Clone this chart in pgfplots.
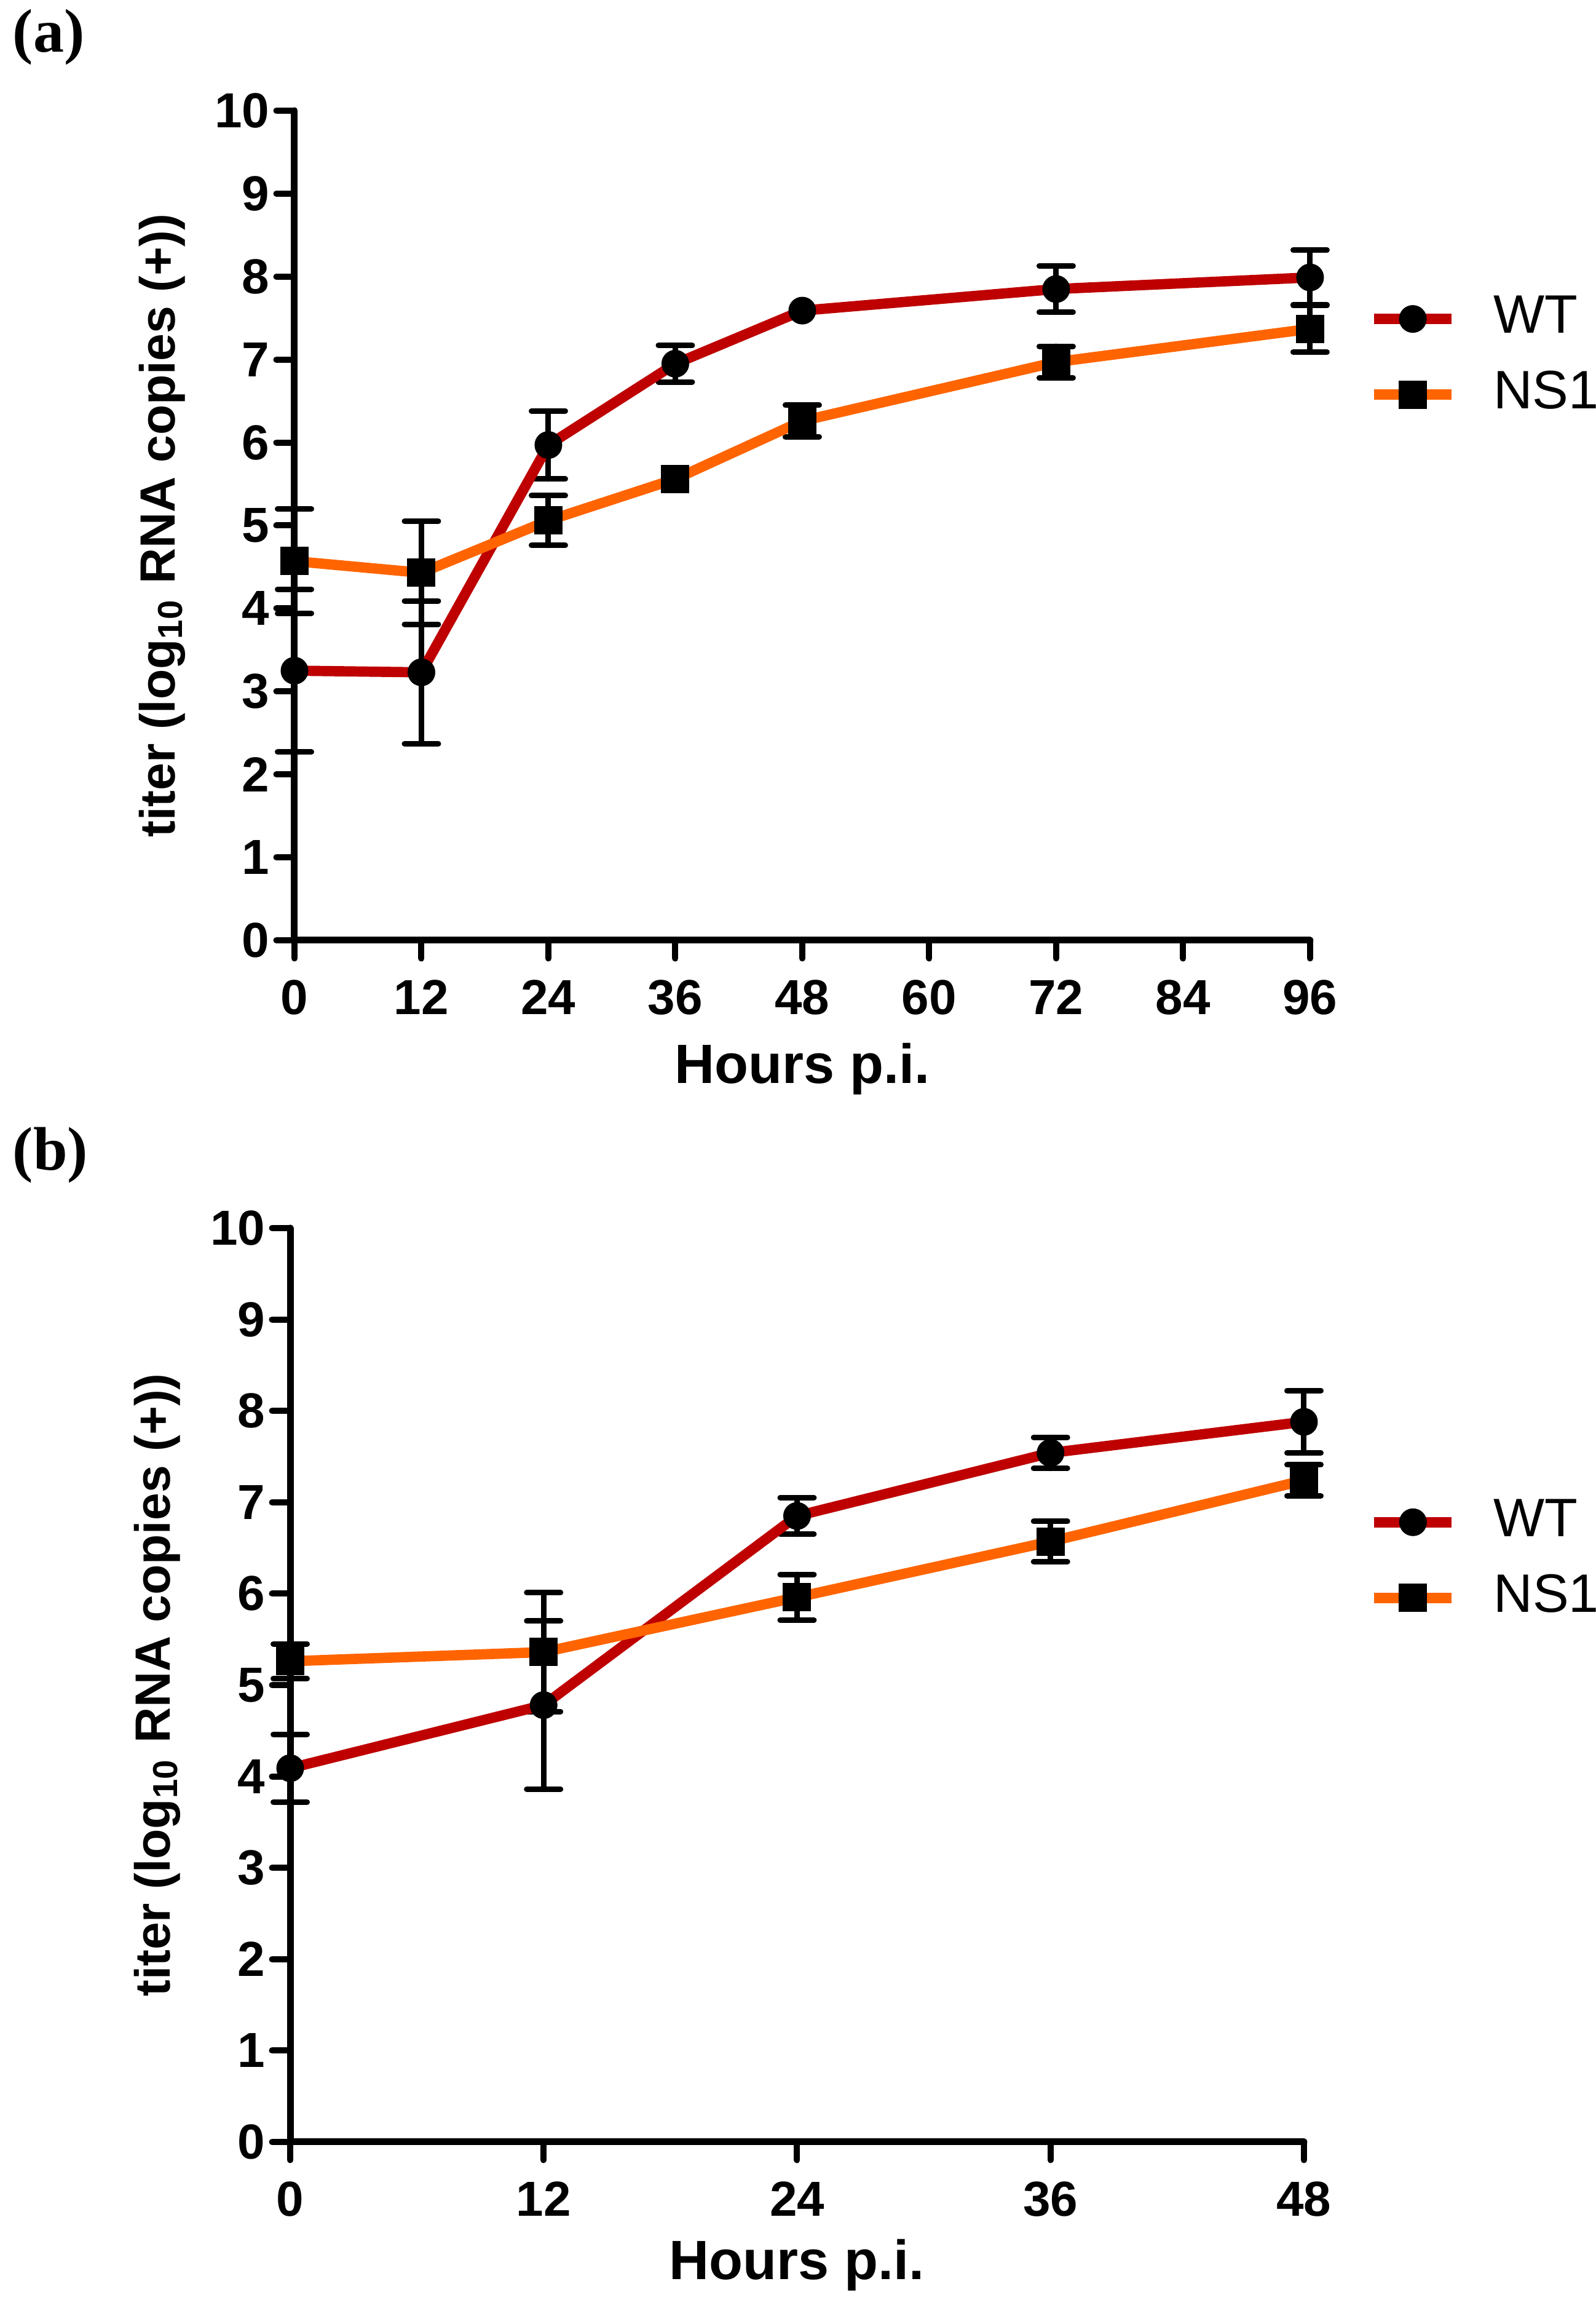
\documentclass[border=0pt]{standalone}
\usepackage{fontspec}
\setmainfont{Liberation Sans}
\newfontfamily\panelfont{Liberation Serif}
\usepackage{pgfplots}
\pgfplotsset{compat=1.18}
\definecolor{wtred}{RGB}{190,0,0}
\definecolor{nsorange}{RGB}{255,100,0}
\pgfplotsset{
  panel/.style={
    scale only axis,
    anchor=south west,
    clip=false,
    axis x line=bottom, axis y line=left,
    axis line style={line width=1.1pt, -, line cap=round},
    tick align=outside, major tick length=2.95pt,
    every tick/.style={black, line width=1.0pt, line cap=round},
    xmin=0, ymin=0, ymax=10, ytick={0,1,...,10},
    /pgf/number format/assume math mode=true,
    tick label style={font=\bfseries\fontsize{8}{9}\selectfont},
    yticklabel style={xshift=2.4pt},
    xlabel style={font=\bfseries\fontsize{9}{10}\selectfont},
    ylabel style={font=\bfseries\fontsize{8.05}{9}\selectfont},
    xlabel={Hours p.i.},
    ylabel={titer (log\textsubscript{10} RNA copies (+))},
    legend style={draw=none, fill=none, inner sep=0pt, outer sep=0pt,
      anchor=west, font=\fontsize{8.8}{10}\selectfont,
      nodes={inner sep=0pt}, column sep=6pt, row sep=4.7pt},
    legend cell align=left,
    legend image code/.code={
      \draw[#1, mark repeat=2, mark phase=2] plot coordinates {(0pt,0pt) (6.3pt,0pt) (12.6pt,0pt)};
    },
  },
  errs/.style={black, only marks, mark=none, forget plot,
    error bars/.cd, y dir=both, y explicit,
    error bar style={line width=0.9pt, black, line cap=round},
    error mark options={rotate=90, mark size=2.75pt, line width=0.9pt, black, line cap=round}},
  wt/.style={wtred, line width=1.67pt, mark=*, mark size=2.1pt,
    mark options={solid, fill=black, draw=black, line width=0.3pt}},
  ns/.style={nsorange, line width=1.67pt, mark=square*, mark size=2.15pt,
    mark options={solid, fill=black, draw=black, line width=0.3pt}},
}
\begin{document}
\begin{tikzpicture}
\path[use as bounding box] (0,0) rectangle (259.6pt,375.3pt);
\node[anchor=west, inner sep=0pt] at (1.9pt,369.3pt) {\panelfont\bfseries\fontsize{10}{12}\selectfont (a)};
\node[anchor=west, inner sep=0pt] at (1.9pt,187.5pt) {\panelfont\bfseries\fontsize{10}{12}\selectfont (b)};
% Panel (a)
\begin{axis}[panel,
  at={(47.9pt,222.4pt)}, width=165.2pt, height=134.9pt,
  xmax=96, xtick={0,12,...,96},
  xlabel style={at={(axis description cs:0.5,-0.155)}, anchor=center},
  ylabel style={at={(axis description cs:-0.130,0.5)}, anchor=center},
  legend style={at={(1.058,0.7032)}},
]
% error bars (points whose bars are hidden by the marker are left out)
\addplot[errs] coordinates {
  (0,3.25) +- (0,0.98)
  (12,3.23) +- (0,0.86)
  (24,5.97) +- (0,0.41)
  (36,6.95) +- (0,0.22)
  (72,7.85) +- (0,0.28)
  (96,7.99) +- (0,0.33)
};
\addplot[errs] coordinates {
  (0,4.57) +- (0,0.63)
  (12,4.43) +- (0,0.62)
  (24,5.06) +- (0,0.30)
  (48,6.26) +- (0,0.19)
  (72,6.97) +- (0,0.19)
  (96,7.37) +- (0,0.28)
};
\addplot[wt] coordinates {
  (0,3.25) (12,3.23) (24,5.97) (36,6.95) (48,7.59) (72,7.85) (96,7.99)
};
\addlegendentry{WT}
\addplot[ns] coordinates {
  (0,4.57) (12,4.43) (24,5.06) (36,5.56) (48,6.26) (72,6.97) (96,7.37)
};
\addlegendentry{NS1}
\end{axis}
% Panel (b)
\begin{axis}[panel,
  at={(47.2pt,27.0pt)}, width=164.9pt, height=148.6pt,
  xmax=48, xtick={0,12,...,48},
  xlabel style={at={(axis description cs:0.5,-0.135)}, anchor=center},
  ylabel style={at={(axis description cs:-0.131,0.5)}, anchor=center},
  legend style={at={(1.0643,0.6366)}},
]
\addplot[errs] coordinates {
  (0,4.09) +- (0,0.37)
  (12,4.78) +- (0,0.92)
  (24,6.85) +- (0,0.20)
  (36,7.54) +- (0,0.17)
  (48,7.88) +- (0,0.34)
};
\addplot[errs] coordinates {
  (0,5.26) +- (0,0.19)
  (12,5.36) +- (0,0.65)
  (24,5.96) +- (0,0.25)
  (36,6.57) +- (0,0.22)
  (48,7.24) +- (0,0.17)
};
\addplot[wt] coordinates {
  (0,4.09) (12,4.78) (24,6.85) (36,7.54) (48,7.88)
};
\addlegendentry{WT}
\addplot[ns] coordinates {
  (0,5.26) (12,5.36) (24,5.96) (36,6.57) (48,7.24)
};
\addlegendentry{NS1}
\end{axis}
\end{tikzpicture}
\end{document}
